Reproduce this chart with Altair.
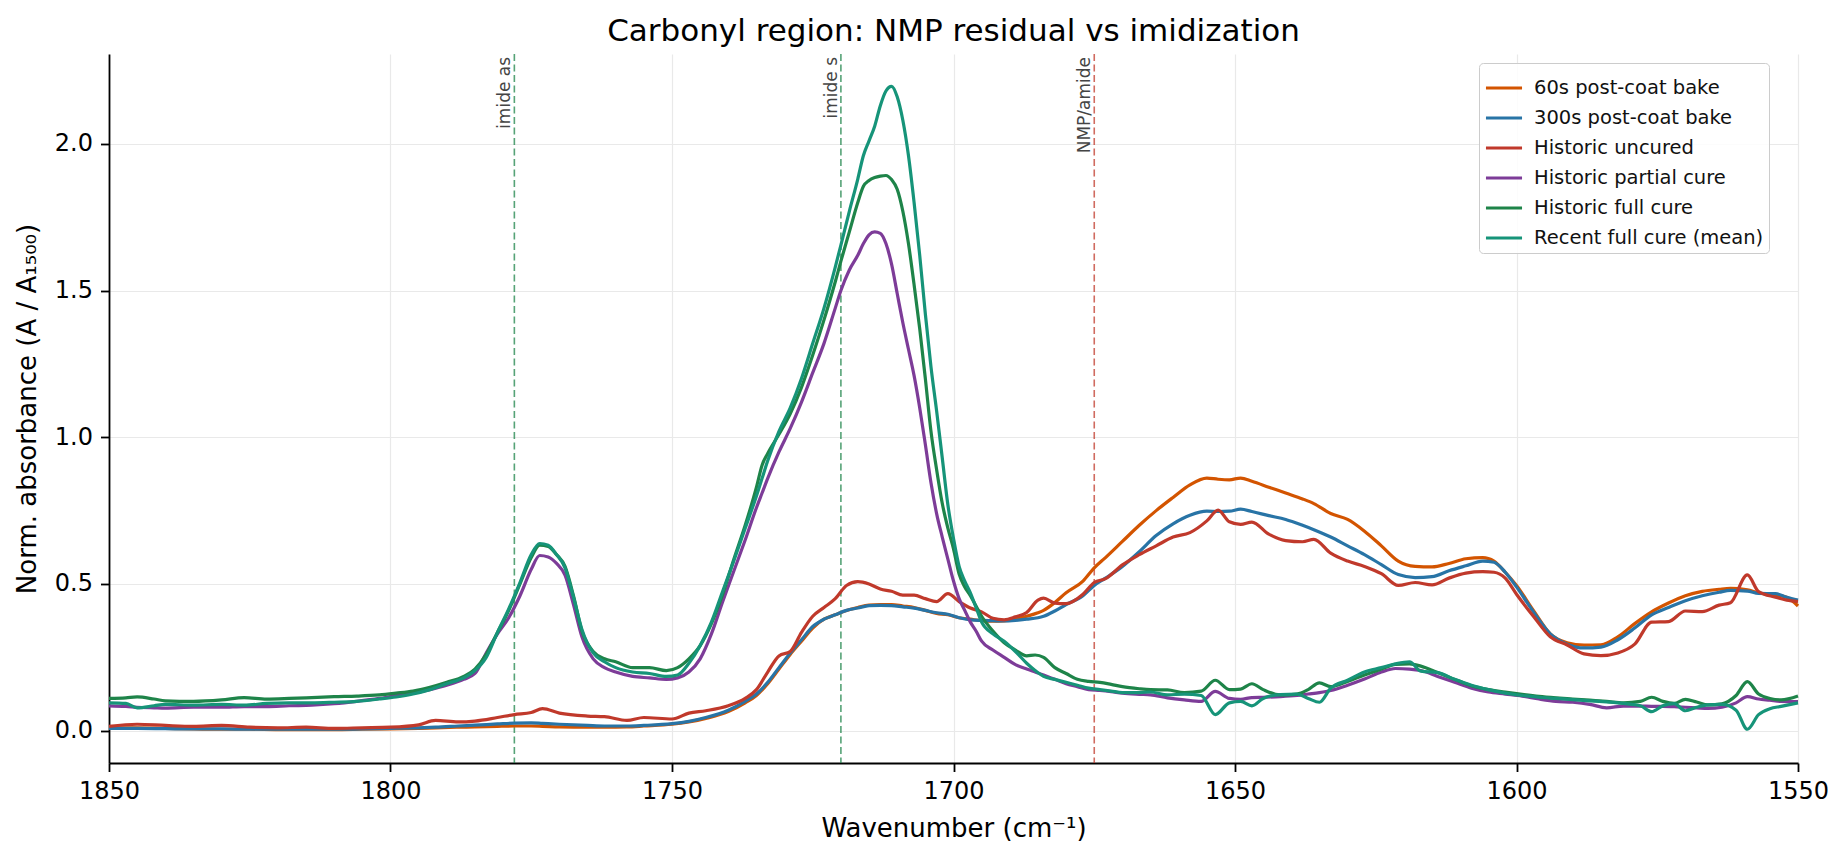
import altair as alt
import pandas as pd

# --- data --------------------------------------------------------------------

SERIES = [
    "60s post-coat bake",
    "300s post-coat bake",
    "Historic uncured",
    "Historic partial cure",
    "Historic full cure",
    "Recent full cure (mean)",
]
COLORS = ["#d35400", "#2874a6", "#c0392b", "#7d3c98", "#1e8449", "#169479"]

# wavenumber grid for the baked / uncured spectra
WN_BAKE = [
    1850, 1845, 1840, 1835, 1830, 1825, 1820, 1815, 1810, 1805,
    1800, 1795, 1792, 1788, 1785, 1781, 1778, 1775, 1773, 1770,
    1765, 1762, 1758, 1755, 1750, 1747, 1744, 1740, 1737, 1735,
    1733, 1731, 1729, 1727, 1725, 1723, 1721, 1719, 1717, 1715,
    1713, 1711, 1709, 1707, 1705, 1703, 1701, 1699, 1697, 1695,
    1693, 1691, 1689, 1687, 1685, 1684, 1682, 1680, 1677, 1675,
    1673, 1670, 1667, 1664, 1661, 1658, 1655, 1653, 1651, 1649,
    1647, 1644, 1641, 1638, 1636, 1633, 1630, 1627, 1624, 1621,
    1618, 1615, 1612, 1609, 1606, 1604, 1602, 1600, 1597, 1594,
    1591, 1588, 1585, 1582, 1579, 1576, 1573, 1570, 1567, 1564,
    1562, 1559, 1557, 1554, 1552, 1550,
]

A_60S = [
    0.010, 0.010, 0.008, 0.006, 0.005, 0.005, 0.004, 0.004, 0.004, 0.005,
    0.006, 0.008, 0.010, 0.012, 0.013, 0.015, 0.016, 0.016, 0.015, 0.013,
    0.012, 0.012, 0.013, 0.016, 0.022, 0.030, 0.042, 0.065, 0.095, 0.120,
    0.160, 0.210, 0.260, 0.305, 0.350, 0.380, 0.395, 0.410, 0.420, 0.428,
    0.430, 0.430, 0.425, 0.420, 0.410, 0.400, 0.395, 0.385, 0.380, 0.375,
    0.373, 0.374, 0.380, 0.390, 0.402, 0.410, 0.437, 0.470, 0.510, 0.555,
    0.590, 0.645, 0.700, 0.750, 0.795, 0.838, 0.861, 0.857, 0.855, 0.861,
    0.850, 0.830, 0.810, 0.790, 0.774, 0.740, 0.720, 0.680, 0.630, 0.578,
    0.560, 0.558, 0.570, 0.586, 0.590, 0.578, 0.540, 0.495, 0.410, 0.330,
    0.300, 0.292, 0.293, 0.320, 0.365, 0.405, 0.435, 0.460, 0.475, 0.482,
    0.485, 0.480, 0.470, 0.462, 0.455, 0.425,
]

A_300S = [
    0.008, 0.008, 0.007, 0.006, 0.006, 0.005, 0.005, 0.005, 0.005, 0.006,
    0.008, 0.010, 0.012, 0.016, 0.019, 0.023, 0.026, 0.027, 0.025, 0.022,
    0.018, 0.016, 0.016, 0.018, 0.024, 0.032, 0.045, 0.070, 0.100, 0.125,
    0.165, 0.215, 0.265, 0.310, 0.355, 0.380, 0.395, 0.410, 0.418, 0.426,
    0.427, 0.426, 0.422, 0.418, 0.410, 0.402, 0.397, 0.385, 0.378, 0.376,
    0.375, 0.374, 0.376, 0.380, 0.385, 0.390, 0.408, 0.430, 0.460, 0.495,
    0.520, 0.560, 0.610, 0.665, 0.705, 0.734, 0.748, 0.747, 0.748, 0.755,
    0.747, 0.733, 0.720, 0.700, 0.685, 0.660, 0.630, 0.600, 0.566, 0.532,
    0.522, 0.525, 0.545, 0.562, 0.578, 0.574, 0.540, 0.490, 0.405, 0.330,
    0.295, 0.282, 0.285, 0.310, 0.350, 0.395, 0.420, 0.443, 0.460, 0.472,
    0.478, 0.476, 0.468, 0.467, 0.455, 0.445,
]

A_UNCURED = [
    0.015, 0.022, 0.018, 0.015, 0.018, 0.012, 0.010, 0.012, 0.008, 0.010,
    0.012, 0.020, 0.035, 0.030, 0.033, 0.045, 0.055, 0.062, 0.075, 0.060,
    0.050, 0.048, 0.035, 0.045, 0.040, 0.060, 0.068, 0.085, 0.110, 0.140,
    0.200, 0.255, 0.270, 0.335, 0.390, 0.420, 0.450, 0.495, 0.508, 0.500,
    0.483, 0.475, 0.462, 0.462, 0.450, 0.440, 0.467, 0.440, 0.418, 0.405,
    0.383, 0.378, 0.388, 0.403, 0.445, 0.452, 0.435, 0.433, 0.465, 0.505,
    0.518, 0.565, 0.600, 0.630, 0.660, 0.675, 0.715, 0.752, 0.712, 0.703,
    0.711, 0.670, 0.648, 0.644, 0.652, 0.605, 0.578, 0.560, 0.535, 0.495,
    0.505, 0.497, 0.520, 0.537, 0.542, 0.540, 0.520, 0.465, 0.390, 0.320,
    0.292, 0.262, 0.256, 0.265, 0.295, 0.370, 0.372, 0.408, 0.406, 0.428,
    0.436, 0.531, 0.474, 0.455, 0.445, 0.440,
]

# wavenumber grid for the cured spectra (denser around the imide peaks)
WN_CURE = [
    1850, 1847, 1845, 1842, 1840, 1835, 1830, 1826, 1822, 1818,
    1814, 1810, 1806, 1802, 1799, 1796, 1793, 1790, 1787, 1785,
    1783, 1781, 1779, 1777, 1775, 1773.5, 1772, 1770.5, 1769, 1767.5,
    1766, 1764, 1762, 1760, 1757, 1754, 1751, 1749, 1747, 1745,
    1743, 1741, 1739, 1737, 1735, 1734, 1733, 1731, 1729, 1727,
    1725, 1723, 1721, 1720, 1718.5, 1717, 1716, 1715, 1714, 1713,
    1712, 1711, 1710, 1709, 1708, 1707, 1706, 1705, 1704, 1703,
    1702, 1701, 1700, 1699, 1698, 1697, 1696, 1695, 1693, 1691,
    1689, 1687, 1685.5, 1684, 1682, 1680, 1678, 1676, 1674, 1672,
    1670, 1667, 1665, 1662, 1659, 1656, 1653.5, 1651, 1649, 1647,
    1645, 1642, 1639, 1637, 1635, 1633, 1630, 1627, 1624, 1621.5,
    1619, 1617, 1614, 1611, 1608, 1605, 1602, 1599, 1596, 1593,
    1590, 1587, 1584, 1581, 1578, 1576, 1574, 1572, 1570, 1568,
    1566, 1563.5, 1561, 1559, 1557, 1555, 1553, 1550,
]

A_PARTIAL = [
    0.085, 0.083, 0.080, 0.078, 0.077, 0.080, 0.080, 0.082, 0.082, 0.085,
    0.087, 0.092, 0.100, 0.110, 0.120, 0.128, 0.140, 0.155, 0.175, 0.195,
    0.265, 0.330, 0.385, 0.460, 0.550, 0.597, 0.592, 0.570, 0.530, 0.430,
    0.320, 0.245, 0.215, 0.200, 0.185, 0.180, 0.175, 0.180, 0.200, 0.245,
    0.330, 0.440, 0.545, 0.650, 0.760, 0.810, 0.860, 0.950, 1.030, 1.120,
    1.220, 1.320, 1.440, 1.500, 1.570, 1.620, 1.660, 1.690, 1.700, 1.695,
    1.660, 1.590, 1.490, 1.390, 1.300, 1.210, 1.100, 0.975, 0.845, 0.740,
    0.660, 0.585, 0.510, 0.450, 0.410, 0.370, 0.340, 0.305, 0.275, 0.250,
    0.225, 0.210, 0.200, 0.190, 0.175, 0.160, 0.150, 0.140, 0.137, 0.133,
    0.128, 0.124, 0.122, 0.112, 0.105, 0.100, 0.134, 0.110, 0.107, 0.113,
    0.114, 0.116, 0.120, 0.125, 0.130, 0.137, 0.155, 0.176, 0.200, 0.212,
    0.210, 0.205, 0.185, 0.165, 0.145, 0.132, 0.125, 0.118, 0.108, 0.100,
    0.097, 0.090, 0.078, 0.084, 0.084, 0.083, 0.083, 0.082, 0.080, 0.078,
    0.076, 0.080, 0.095, 0.116, 0.108, 0.104, 0.100, 0.099,
]

A_FULL = [
    0.110, 0.112, 0.115, 0.108, 0.102, 0.100, 0.105, 0.113, 0.108, 0.110,
    0.113, 0.116, 0.118, 0.122, 0.128, 0.135, 0.148, 0.165, 0.185, 0.210,
    0.260, 0.335, 0.410, 0.500, 0.590, 0.632, 0.628, 0.600, 0.560, 0.460,
    0.340, 0.270, 0.245, 0.235, 0.215, 0.215, 0.205, 0.215, 0.245, 0.290,
    0.365, 0.465, 0.585, 0.700, 0.830, 0.905, 0.945, 1.010, 1.080, 1.170,
    1.280, 1.400, 1.530, 1.600, 1.700, 1.800, 1.855, 1.875, 1.885, 1.890,
    1.892, 1.878, 1.845, 1.770, 1.660, 1.520, 1.370, 1.200, 1.020, 0.890,
    0.775, 0.690, 0.620, 0.534, 0.490, 0.460, 0.425, 0.390, 0.340, 0.300,
    0.275, 0.255, 0.258, 0.250, 0.215, 0.195, 0.175, 0.168, 0.165, 0.158,
    0.150, 0.143, 0.140, 0.139, 0.130, 0.135, 0.172, 0.140, 0.142, 0.160,
    0.140, 0.122, 0.125, 0.140, 0.163, 0.150, 0.168, 0.190, 0.210, 0.226,
    0.228, 0.220, 0.198, 0.175, 0.153, 0.140, 0.132, 0.124, 0.117, 0.112,
    0.108, 0.104, 0.100, 0.095, 0.100, 0.114, 0.100, 0.093, 0.107, 0.098,
    0.088, 0.092, 0.120, 0.167, 0.125, 0.110, 0.105, 0.118,
]

A_RECENT = [
    0.095, 0.093, 0.078, 0.085, 0.090, 0.087, 0.090, 0.087, 0.093, 0.095,
    0.095, 0.097, 0.100, 0.108, 0.115, 0.125, 0.140, 0.160, 0.180, 0.205,
    0.250, 0.335, 0.415, 0.505, 0.600, 0.638, 0.632, 0.600, 0.555, 0.455,
    0.345, 0.265, 0.235, 0.215, 0.200, 0.195, 0.185, 0.190, 0.230, 0.290,
    0.370, 0.475, 0.580, 0.690, 0.800, 0.860, 0.920, 1.020, 1.100, 1.200,
    1.320, 1.440, 1.580, 1.655, 1.770, 1.880, 1.960, 2.010, 2.060, 2.130,
    2.180, 2.196, 2.160, 2.080, 1.960, 1.800, 1.620, 1.420, 1.240, 1.090,
    0.930, 0.770, 0.655, 0.560, 0.510, 0.470, 0.420, 0.370, 0.330, 0.305,
    0.270, 0.230, 0.205, 0.185, 0.175, 0.165, 0.155, 0.145, 0.140, 0.135,
    0.130, 0.130, 0.132, 0.122, 0.125, 0.120, 0.055, 0.095, 0.100, 0.085,
    0.110, 0.123, 0.125, 0.110, 0.097, 0.145, 0.172, 0.200, 0.215, 0.228,
    0.235, 0.203, 0.198, 0.175, 0.155, 0.140, 0.128, 0.120, 0.114, 0.110,
    0.106, 0.102, 0.098, 0.093, 0.085, 0.065, 0.085, 0.092, 0.068, 0.080,
    0.088, 0.090, 0.070, 0.005, 0.055, 0.075, 0.083, 0.095,
]

# reference band positions
BAND_WN = [1778, 1720, 1675]
BAND_TEXT = ["imide as", "imide s", "NMP/amide"]
BAND_COLOR = ["#1e8449", "#1e8449", "#c0392b"]

X_TICKS = [1850, 1800, 1750, 1700, 1650, 1600, 1550]
Y_TICKS = [0.0, 0.5, 1.0, 1.5, 2.0]

FONT = "DejaVu Sans"

# --- tables -------------------------------------------------------------------

frames = []
for name, wn, vals in [
    (SERIES[0], WN_BAKE, A_60S),
    (SERIES[1], WN_BAKE, A_300S),
    (SERIES[2], WN_BAKE, A_UNCURED),
    (SERIES[3], WN_CURE, A_PARTIAL),
    (SERIES[4], WN_CURE, A_FULL),
    (SERIES[5], WN_CURE, A_RECENT),
]:
    part = pd.DataFrame({"wavenumber": wn, "absorbance": vals})
    part["series"] = name
    frames.append(part)
df = pd.concat(frames, ignore_index=True)

bands = pd.DataFrame({"wavenumber": BAND_WN, "label": BAND_TEXT, "color": BAND_COLOR})

x_scale = alt.Scale(domain=[1550, 1850], reverse=True, nice=False, zero=False)
y_scale = alt.Scale(domain=[-0.11, 2.306], nice=False, zero=False)

# --- layers -------------------------------------------------------------------

lines = (
    alt.Chart(df)
    .mark_line(strokeWidth=3.2, interpolate="monotone")
    .encode(
        x=alt.X(
            "wavenumber:Q",
            scale=x_scale,
            axis=alt.Axis(values=X_TICKS, format="d", title="Wavenumber (cm⁻¹)",
                          titlePadding=12, labelFlush=False, titleFontSize=26),
        ),
        y=alt.Y(
            "absorbance:Q",
            scale=y_scale,
            axis=alt.Axis(values=Y_TICKS, format=".1f",
                          title="Norm. absorbance (A / A₁₅₀₀)", titlePadding=14,
                          titleFontSize=26),
        ),
        color=alt.Color(
            "series:N",
            scale=alt.Scale(domain=SERIES, range=COLORS),
            sort=SERIES,
            legend=alt.Legend(
                title=None,
                orient="none",
                legendX=1370,
                legendY=9,
                symbolType="stroke",
                symbolSize=1300,
                symbolStrokeWidth=3.2,
                labelFont=FONT,
                labelFontSize=19.5,
                labelColor="#111111",
                labelLimit=400,
                labelOffset=10,
                rowPadding=-4,
                padding=5,
                fillColor="rgba(255,255,255,0.85)",
                strokeColor="#cccccc",
                cornerRadius=4,
            ),
        ),
    )
)

rules = (
    alt.Chart(bands)
    .mark_rule(strokeDash=[7, 3.5], strokeWidth=1.6, opacity=0.75)
    .encode(
        x=alt.X("wavenumber:Q", scale=x_scale),
        stroke=alt.Stroke("color:N", scale=None, legend=None),
    )
)

band_labels = (
    alt.Chart(bands)
    .mark_text(angle=270, align="right", baseline="bottom", font=FONT,
               fontSize=17, color="#444444")
    .encode(
        x=alt.X("wavenumber:Q", scale=x_scale),
        y=alt.datum(2.296),
        text="label:N",
    )
)

chart = (
    alt.layer(rules, lines, band_labels)
    .properties(
        width=1689,
        height=709,
        padding={"left": 101, "top": 46, "right": 30, "bottom": 90},
        autosize=alt.AutoSizeParams(type="none"),
        title=alt.TitleParams(
            "Carbonyl region: NMP residual vs imidization",
            font=FONT,
            fontSize=31,
            fontWeight="normal",
            color="black",
            anchor="middle",
            offset=5,
        ),
    )
    .configure_view(stroke=None)
    .configure_axis(
        grid=True,
        gridColor="#e9e9e9",
        gridWidth=1.2,
        domainColor="black",
        domainWidth=1.8,
        tickColor="black",
        tickWidth=1.8,
        tickSize=8.5,
        labelPadding=8,
        labelFont=FONT,
        labelFontSize=24,
        labelColor="black",
        titleFont=FONT,
        titleFontSize=24,
        titleFontWeight="normal",
        titleColor="black",
    )
)

chart.save("out.html", embed_options={"renderer": "svg", "actions": False})
